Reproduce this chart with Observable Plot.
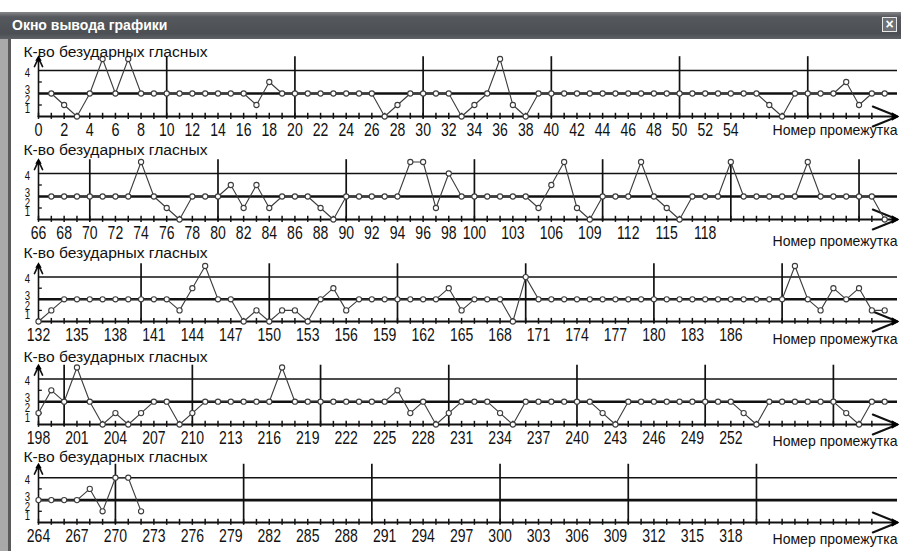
<!DOCTYPE html>
<html><head><meta charset="utf-8">
<script src="https://cdn.jsdelivr.net/npm/d3@7"></script>
<script src="https://cdn.jsdelivr.net/npm/@observablehq/plot@0.6"></script>
<style>
body{margin:0;background:#fff;}
#win{position:relative;width:901px;height:551px;overflow:hidden;background:#fff;font-family:'Liberation Sans',Arial,sans-serif;}
#titlebar{position:absolute;left:0;top:12px;width:901px;height:27px;background:linear-gradient(#85878b,#55585c 18%,#4c4f53 80%,#5e6165);color:#fff;font-weight:bold;font-size:14px;line-height:27px;padding-left:12px;box-sizing:border-box;}
#close{position:absolute;left:882px;top:5px;width:13px;height:13px;border:1.5px solid #e8e8e8;color:#fff;font-size:14px;line-height:12px;text-align:center;font-weight:bold;background:#6d7074;}
#leftframe{position:absolute;left:0;top:39px;width:8px;height:512px;background:#a9a9a9;border-right:3px solid #5a5a5a;}
.panel{position:absolute;left:0;}
.panel svg{overflow:visible;}
</style></head>
<body>
<div id="win">
  <div id="titlebar">Окно вывода графики<div id="close">×</div></div>
  <div id="leftframe"></div>
</div>
<script>
// ---- data: number of unstressed vowels per interval ----
const firstInterval = [1, 67, 132, 198, 264];
const vowels1 = [2,1,0,2,5,2,5,2,2,2, 2,2,2,2,2,2,1,3,2,2, 2,2,2,2,2,2,0,1,2,2, 2,2,0,1,2,5,1,0,2,2, 2,2,2,2,2,2,2,2,2,2, 2,2,2,2,2,2,1,0,2,2, 2,2,3,1,2,2];
const vowels2 = [2,2,2,2,2,2,2,5,2,1,0,2,2,2, 3,1,3,1,2,2,2,1,0,2, 2,2,2,2,5,5,1,4,2,2, 2,2,2,2,1,3,5,1,0,2, 2,2,5,2,1,0,2,2,2,5, 2,2,2,2,2,5,2,2,2,2, 2,0];
const vowels3 = [0,1,2,2,2,2,2,2,2, 2,2,1,3,5,2,2,0,1,0, 1,1,0,2,3,1,2,2,2,2, 2,2,2,3,1,2,2,2,0,4, 2,2,2,2,2,2,2,2,2,2, 2,2,2,2,2,2,2,2,2,2, 5,2,1,3,2,3,1,1];
const vowels4 = [1,3,2, 5,2,0,1,0,1,2,2,0,1, 2,2,2,2,2,2,5,2,2,2, 2,2,2,2,2,3,1,2,0,1, 2,2,2,1,0,2,2,2,2,2, 2,1,0,2,2,2,2,2,2,2, 2,2,1,0,2,2,2,2,2,2, 1,0,2,2];
const vowels5 = [2,2,2,2,3,1,4,4,1];
const series = [vowels1, vowels2, vowels3, vowels4, vowels5];

// ---- axis tick labels ----
const axisOrigin = [0, 66, 132, 198, 264];
const ticks1 = [0,2,4,6,8,10,12,14,16,18,20,22,24,26,28,30,32,34,36,38,40,42,44,46,48,50,52,54];
const ticks2 = [66,68,70,72,74,76,78,80,82,84,86,88,90,92,94,96,98,100,103,106,109,112,115,118];
const ticks3 = [132,135,138,141,144,147,150,153,156,159,162,165,168,171,174,177,180,183,186];
const ticks4 = [198,201,204,207,210,213,216,219,222,225,228,231,234,237,240,243,246,249,252];
const ticks5 = [264,267,270,273,276,279,282,285,288,291,294,297,300,303,306,309,312,315,318];
const tickLists = [ticks1, ticks2, ticks3, ticks4, ticks5];
const dividers = [[10,20,30,40,50,60],[70,80,90,100,110,120,130],[140,150,160,170,180,190],[200,210,220,230,240,250,260],[270,280,290,300,310,320]];
const yLabels = ["4","3","2","1"];
const yLabelPos = [3.8, 2.3, 1.4, 0.6];
const yTitle = "К-во безударных гласных";
const xTitle = "Номер промежутка";

// ---- layout (pixels) ----
const panelTop = [42, 145, 247, 350, 448];
const panelUnit = [11.5, 11.5, 11.1, 11.4, 11.2];
const titleY = [10, 5, 6, 7, 9];
const xTitleShift = [0, 8, 4, 3, 3];
const H = 103, MB = 29, ML = 38, MR = 4, SPAN = 67;
const sans = "'Liberation Sans',Arial,sans-serif";
const ink = "#111", lineInk = "#3c3c3c";

function squeeze(el, s) {
  const tr = el.getAttribute("transform");
  if (tr && /translate/.test(tr)) el.setAttribute("transform", tr + ` scale(${s},1)`);
  else {
    const x = +el.getAttribute("x") || 0;
    el.setAttribute("transform", `translate(${x},0) scale(${s},1) translate(${-x},0)`);
  }
}

const win = document.getElementById("win");
series.forEach((vals, i) => {
  const s0 = axisOrigin[i];
  const data = vals.map((v, j) => ({n: firstInterval[i] + j, v}));
  const mt = 74 - 5 * panelUnit[i];
  const chart = Plot.plot({
    width: 901, height: H,
    marginLeft: ML, marginRight: MR, marginTop: mt, marginBottom: MB,
    x: {domain: [s0, s0 + SPAN], axis: null},
    y: {domain: [0, 5], axis: null},
    style: {background: "transparent", overflow: "visible"},
    marks: [
      Plot.ruleY([4], {stroke: ink, strokeWidth: 1.5}),
      Plot.ruleY([2], {stroke: ink, strokeWidth: 2.6}),
      Plot.ruleX(dividers[i], {y1: () => -0.15, y2: () => 5.2, stroke: ink, strokeWidth: 1.7}),
      Plot.ruleX(d3.range(s0, s0 + 66), {y1: () => -0.25, y2: () => 0.28, stroke: ink, strokeWidth: 1.5}),
      Plot.ruleY([1, 3], {x1: () => s0, x2: () => s0 + 0.3, stroke: ink, strokeWidth: 1.3}),
      Plot.arrow([0], {x1: () => s0, y1: () => 0, x2: () => s0 + SPAN, y2: () => 0, stroke: ink, strokeWidth: 2, headLength: 20, headAngle: 44}),
      Plot.dot([0], {x: () => s0 + SPAN - 0.25, y: () => 0, symbol: "triangle", r: 3.2, rotate: 90, fill: "#000", stroke: "none"}),
      Plot.arrow([0], {x1: () => s0, y1: () => 0, x2: () => s0, y2: () => 5.1, stroke: ink, strokeWidth: 1.6, headLength: 9, headAngle: 50}),
      Plot.dot([0], {x: () => s0, y: () => 5.0, symbol: "triangle", r: 2.4, fill: "#000", stroke: "none"}),
      Plot.line(data, {x: "n", y: "v", stroke: lineInk, strokeWidth: 1.1}),
      Plot.dot(data, {x: "n", y: "v", r: 2.6, fill: "#fff", stroke: lineInk, strokeWidth: 1.1}),
      Plot.text(tickLists[i], {x: d => d, y: () => 0, dy: 14, text: d => String(d), fontSize: 18, fontFamily: sans, fill: "#111", lineAnchor: "middle"}),
      Plot.text(yLabels, {x: () => s0, y: (d, k) => yLabelPos[k], dx: -11, text: d => d, fontSize: 12, fontFamily: sans, fill: "#111", lineAnchor: "middle"}),
      Plot.text([yTitle], {frameAnchor: "top-left", dx: 23 - ML, dy: titleY[i] - mt, text: d => d, textAnchor: "start", lineAnchor: "middle", fontSize: 14, fontFamily: sans, fill: "#111"}),
      Plot.text([xTitle], {frameAnchor: "bottom-right", dy: 14 + xTitleShift[i], text: d => d, textAnchor: "end", lineAnchor: "middle", fontSize: 14.5, fontFamily: sans, fill: "#111"})
    ]
  });
  d3.select(chart).selectAll("text").each(function() {
    const t = this.textContent;
    if (t === xTitle) { this.setAttribute("textLength", 125); this.setAttribute("lengthAdjust", "spacingAndGlyphs"); }
    else if (t === yTitle) { this.setAttribute("textLength", 184); this.setAttribute("lengthAdjust", "spacingAndGlyphs"); }
    else if (/^\d+$/.test(t)) squeeze(this, t.length === 1 ? 0.8 : 0.78);
  });
  const div = document.createElement("div");
  div.className = "panel";
  div.style.top = panelTop[i] + "px";
  div.appendChild(chart);
  win.appendChild(div);
});
</script>
</body></html>
